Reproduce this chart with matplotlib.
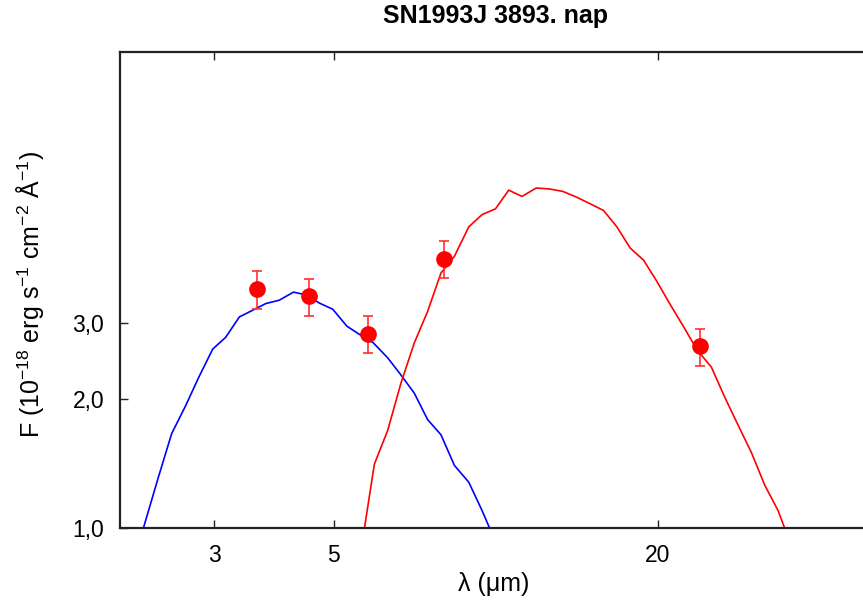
import matplotlib
matplotlib.use("Agg")
import matplotlib.pyplot as plt
from matplotlib.ticker import FixedLocator, FixedFormatter, NullLocator

plt.rcParams['font.family'] = ['Liberation Sans', 'DejaVu Sans']
plt.rcParams['mathtext.fontset'] = 'custom'
plt.rcParams['mathtext.rm'] = 'Liberation Sans'
plt.rcParams['mathtext.it'] = 'Liberation Sans'

title = "SN1993J 3893. nap"

# Blue model (short-wavelength component)
blue_x = [2.11, 2.23, 2.36, 2.50, 2.65, 2.81, 2.98, 3.15, 3.34, 3.53, 3.74, 3.96,
          4.21, 4.44, 4.70, 4.98, 5.29, 5.59, 5.92, 6.30, 6.67, 7.06, 7.47, 7.91,
          8.38, 8.91, 9.43, 9.99]
blue_y = [0.81, 1.03, 1.31, 1.66, 1.92, 2.25, 2.61, 2.78, 3.10, 3.21, 3.33, 3.39,
          3.54, 3.49, 3.34, 3.23, 2.95, 2.82, 2.70, 2.49, 2.27, 2.06, 1.79, 1.65,
          1.40, 1.28, 1.10, 0.93]

# Red model (long-wavelength component)
red_x = [5.62, 5.95, 6.30, 6.67, 7.06, 7.47, 7.91, 8.38, 8.91, 9.43, 9.99, 10.57,
         11.19, 11.89, 12.58, 13.32, 14.11, 14.94, 15.86, 16.79, 17.78, 18.82,
         19.92, 21.10, 22.34, 23.65, 25.15, 26.62, 28.18, 29.85, 31.60, 33.45, 35.41]
red_y = [0.89, 1.41, 1.69, 2.18, 2.70, 3.19, 3.92, 4.29, 5.02, 5.36, 5.53, 6.11,
         5.91, 6.18, 6.15, 6.07, 5.89, 5.69, 5.48, 5.02, 4.48, 4.20, 3.75, 3.31,
         2.94, 2.60, 2.37, 2.02, 1.74, 1.50, 1.26, 1.10, 0.91]

# Observed photometry
obs_x = [3.6, 4.5, 5.8, 8.0, 24.0]
obs_y = [3.60, 3.46, 2.83, 4.23, 2.65]
obs_err = [0.36, 0.34, 0.28, 0.42, 0.26]

xticks = [3, 5, 20]
xticklabels = ["3", "5", "20"]
yticks = [1, 2, 3]
yticklabels = ["1,0", "2,0", "3,0"]

W, H = 863, 612
fig = plt.figure(figsize=(W / 100, H / 100), dpi=100)
left, right, top, bottom = 119.5, 872.0, 52.0, 528.3
ax = fig.add_axes([left / W, 1 - bottom / H, (right - left) / W, (bottom - top) / H])

ax.plot(blue_x, blue_y, color='#0000ff', lw=1.2)
ax.plot(red_x, red_y, color='#ff0000', lw=1.2)
ax.errorbar(obs_x, obs_y, yerr=obs_err, fmt='o', color='#ff0000', ms=11,
            ecolor='#ff3030', elinewidth=1.2, capsize=3.5, capthick=1.2, zorder=5)

ax.set_xscale('log')
ax.set_yscale('log')
ax.set_xlim(2.0, 50.0)
ax.set_ylim(1.0, 12.8)

ax.xaxis.set_major_locator(FixedLocator(xticks))
ax.xaxis.set_major_formatter(FixedFormatter(xticklabels))
ax.xaxis.set_minor_locator(NullLocator())
ax.yaxis.set_major_locator(FixedLocator(yticks))
ax.yaxis.set_major_formatter(FixedFormatter(yticklabels))
ax.yaxis.set_minor_locator(NullLocator())

ax.tick_params(axis='both', which='major', direction='in', length=6, width=1.0,
               labelsize=16.5, top=True, right=False, colors='#222222', labelcolor='black')
ax.tick_params(axis='x', pad=11)
ax.tick_params(axis='y', pad=11)
for s in ['left', 'top', 'bottom']:
    ax.spines[s].set_linewidth(1.6)
    ax.spines[s].set_color('#222222')
ax.spines['right'].set_visible(False)

fig.text(494 / W, 1 - 584 / H, "λ (μm)", ha='center', va='center', fontsize=18)
fig.text(30 / W, 1 - 295 / H, "F (10$^{-18}$ erg s$^{-1}$ cm$^{-2}$ Å$^{-1}$)",
         ha='center', va='center', rotation=90, fontsize=18)
fig.text(495.5 / W, 1 - 16 / H, title, ha='center', va='center', fontsize=18,
         fontweight='bold')

fig.savefig("out.png", dpi=100)
